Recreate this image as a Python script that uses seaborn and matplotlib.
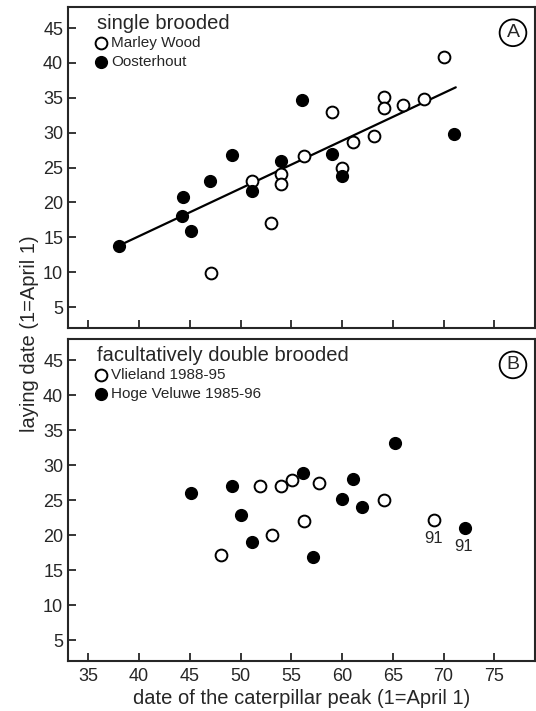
import numpy as np
import pandas as pd
import seaborn as sns
import matplotlib.pyplot as plt

# Panel A - single brooded
marley_x = [70.0, 64.1, 64.1, 66.0, 68.1, 59.0, 63.1, 61.1, 56.2, 60.0, 54.0, 54.0, 51.1, 53.0, 47.1]
marley_y = [40.9, 35.1, 33.6, 33.9, 34.8, 33.0, 29.5, 28.7, 26.7, 25.0, 24.1, 22.6, 23.0, 17.0, 9.9]
oost_x = [38.0, 44.2, 44.3, 45.1, 47.0, 49.2, 51.1, 54.0, 56.0, 59.0, 60.0, 71.0]
oost_y = [13.8, 18.1, 20.8, 15.9, 23.0, 26.8, 21.6, 25.9, 34.7, 26.9, 23.8, 29.8]
fit_x = [38.0, 71.2]
fit_y = [13.8, 36.5]

# Panel B - facultatively double brooded
vlie_x = [48.1, 51.9, 53.1, 54.0, 55.1, 56.2, 57.7, 64.1, 69.1]
vlie_y = [17.1, 27.0, 20.0, 27.0, 27.9, 22.0, 27.5, 25.0, 22.1]
hoge_x = [45.1, 49.2, 50.0, 51.1, 56.1, 57.1, 60.0, 61.1, 62.0, 65.2, 72.1]
hoge_y = [26.0, 27.0, 22.9, 19.0, 28.9, 16.9, 25.1, 28.0, 24.0, 33.1, 21.0]
year_labels = ["91", "91"]
year_x = [69.1, 72.1]
year_y = [22.1, 21.0]

xticks = [35, 40, 45, 50, 55, 60, 65, 70, 75]
yticks = [5, 10, 15, 20, 25, 30, 35, 40, 45]

sns.set_style("ticks")
plt.rcParams['font.family'] = ['Liberation Sans', 'DejaVu Sans']
plt.rcParams['axes.linewidth'] = 1.5

fig = plt.figure(figsize=(5.36, 7.11), dpi=100)
ax1 = fig.add_axes([0.127, 0.5387, 0.871, 0.4513])
ax2 = fig.add_axes([0.127, 0.0703, 0.871, 0.4527])

open_kw = dict(color='white', edgecolor='black', linewidth=1.4, s=72, zorder=3)
fill_kw = dict(color='black', edgecolor='black', linewidth=1.0, s=72, zorder=4)

ax1.plot(fit_x, fit_y, color='black', linewidth=1.6, zorder=2)
sns.scatterplot(x=oost_x, y=oost_y, label='Oosterhout', ax=ax1, **fill_kw)
sns.scatterplot(x=marley_x, y=marley_y, label='Marley Wood', ax=ax1, **open_kw)

sns.scatterplot(x=hoge_x, y=hoge_y, label='Hoge Veluwe 1985-96', ax=ax2, **fill_kw)
sns.scatterplot(x=vlie_x, y=vlie_y, label='Vlieland 1988-95', ax=ax2, **open_kw)
for t, x, y in zip(year_labels, year_x, year_y):
    ax2.annotate(t, (x, y), xytext=(-1, -13), textcoords='offset points',
                 ha='center', va='center', fontsize=12)

titles = ["single brooded", "facultatively double brooded"]
letters = ["A", "B"]
for ax, title, letter in zip([ax1, ax2], titles, letters):
    ax.set_xlim(33, 79)
    ax.set_ylim(2, 48)
    ax.set_xticks(xticks)
    ax.set_yticks(yticks)
    ax.tick_params(direction='in', length=6, width=1.3, labelsize=13,
                   top=False, right=False)
    ax.tick_params(axis='x', pad=5)
    for s in ax.spines.values():
        s.set_visible(True)
        s.set_linewidth(1.5)
    ax.text(0.061, 0.95, title, transform=ax.transAxes, fontsize=14.5,
            ha='left', va='center')
    ax.text(0.953, 0.92, letter, transform=ax.transAxes, fontsize=14,
            ha='center', va='center',
            bbox=dict(boxstyle='circle,pad=0.25', facecolor='white',
                      edgecolor='black', linewidth=1.3))
    h, l = ax.get_legend_handles_labels()
    ax.legend(h[::-1], l[::-1], loc='upper left', bbox_to_anchor=(0.05, 0.91),
              frameon=False, fontsize=11, handletextpad=0.1,
              handlelength=1.2, labelspacing=0.3, borderaxespad=0,
              borderpad=0)

ax1.tick_params(labelbottom=False)
ax2.set_xlabel("date of the caterpillar peak (1=April 1)", fontsize=14.5,
               labelpad=3)
fig.text(30 / 536, 1 - 334 / 711, "laying date (1=April 1)", rotation=90,
         ha='center', va='center', fontsize=14.5)

fig.savefig("out.png", dpi=100)
